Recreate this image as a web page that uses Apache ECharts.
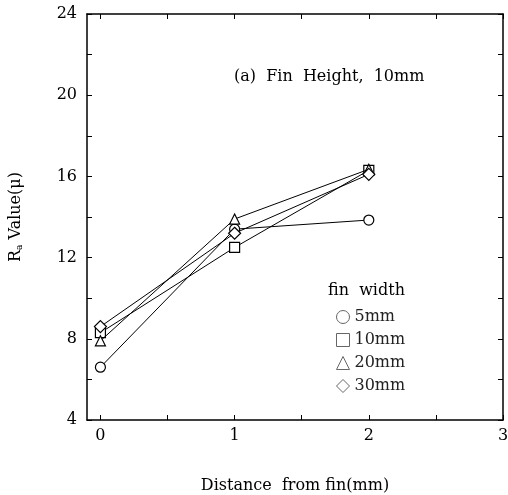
<!DOCTYPE html>
<html><head><meta charset="utf-8">
<script src="https://cdn.jsdelivr.net/npm/echarts@6/dist/echarts.min.js"></script>
<style>html,body{margin:0;padding:0;background:#fff}#c{width:508px;height:495px}</style>
</head><body><div id="c"></div>
<script>
const xValues = [0, 1, 2];
const seriesNames = ['5mm', '10mm', '20mm', '30mm'];
const seriesSymbols = ['circle', 'rect', 'triangle', 'diamond'];
const w5 = [6.6, 13.4, 13.85];
const w10 = [8.3, 12.5, 16.3];
const w20 = [7.9, 13.9, 16.35];
const w30 = [8.6, 13.2, 16.1];
const xTickLabels = [0, 1, 2, 3];
const xTicks = [0, 0.5, 1, 1.5, 2, 2.5, 3];
const allValues = [w5, w10, w20, w30];

const FONT = 'DejaVu Serif';
const chart = echarts.init(document.getElementById('c'));
const lineColor = '#000';
const series = seriesNames.map((n, i) => ({
  name: n, type: 'line',
  data: xValues.map((x, j) => [x, allValues[i][j]]),
  symbol: seriesSymbols[i],
  symbolSize: i === 3 ? 12 : 10,
  lineStyle: { color: lineColor, width: 1 },
  itemStyle: { color: '#fff', borderColor: '#000', borderWidth: 1.2 },
  emphasis: { disabled: true },
  z: 3 + i
}));
const axisLine = { show: true, onZero: false, lineStyle: { color: '#000', width: 1.5 } };
chart.setOption({
  animation: false,
  grid: { left: 87, right: 5, top: 14, bottom: 75, outerBoundsMode: 'none', containLabel: false },
  legend: {
    orient: 'vertical', left: 331, top: 304, itemWidth: 13, itemHeight: 13, itemGap: 7,
    textStyle: { fontFamily: FONT, fontSize: 16, color: '#222' },
    data: seriesNames.map((n, i) => ({ name: n, icon: seriesSymbols[i],
      itemStyle: { color: '#fff', borderColor: '#666', borderWidth: 1 } })),
    selectedMode: false
  },
  xAxis: [{
    type: 'value', min: -0.1, max: 3, position: 'bottom',
    name: 'Distance  from fin(mm)', nameLocation: 'middle', nameGap: 58,
    nameTextStyle: { fontFamily: FONT, fontSize: 16, color: '#000' },
    axisLine: axisLine,
    axisTick: { inside: true, length: 5, customValues: xTicks, lineStyle: { color: '#000' } },
    axisLabel: { customValues: xTickLabels, fontFamily: FONT, fontSize: 16, color: '#000', margin: 8 },
    splitLine: { show: false }
  }, {
    type: 'value', min: -0.1, max: 3, position: 'top',
    axisLine: axisLine,
    axisTick: { inside: true, length: 5, customValues: xTicks, lineStyle: { color: '#000' } },
    axisLabel: { show: false }, splitLine: { show: false }
  }],
  yAxis: [{
    type: 'value', min: 4, max: 24, interval: 4, position: 'left',
    name: '{n|R}{s|a}{n| Value(μ)}', nameLocation: 'middle', nameGap: 63, nameRotate: 90,
    nameTextStyle: { rich: {
      n: { fontFamily: FONT, fontSize: 16, color: '#000' },
      s: { fontFamily: FONT, fontSize: 9, color: '#000', verticalAlign: 'bottom', padding: [8, 0, 0, 0] } } },
    axisLine: axisLine,
    axisTick: { inside: true, length: 5, lineStyle: { color: '#000' } },
    minorTick: { show: true, splitNumber: 2, length: 5, lineStyle: { color: '#000' } },
    axisLabel: { fontFamily: FONT, fontSize: 16, color: '#000', margin: 10 },
    splitLine: { show: false }, minorSplitLine: { show: false }
  }, {
    type: 'value', min: 4, max: 24, interval: 4, position: 'right',
    axisLine: axisLine,
    axisTick: { inside: true, length: 5, lineStyle: { color: '#000' } },
    minorTick: { show: true, splitNumber: 2, length: 5, lineStyle: { color: '#000' } },
    axisLabel: { show: false }, splitLine: { show: false }
  }],
  graphic: [
    { type: 'text', left: 234, top: 69, style: { text: '(a)  Fin  Height,  10mm', font: '16px "DejaVu Serif"', fill: '#000' } },
    { type: 'text', left: 328, top: 283, style: { text: 'fin  width', font: '16px "DejaVu Serif"', fill: '#000' } }
  ],
  series: series
});
</script></body></html>
